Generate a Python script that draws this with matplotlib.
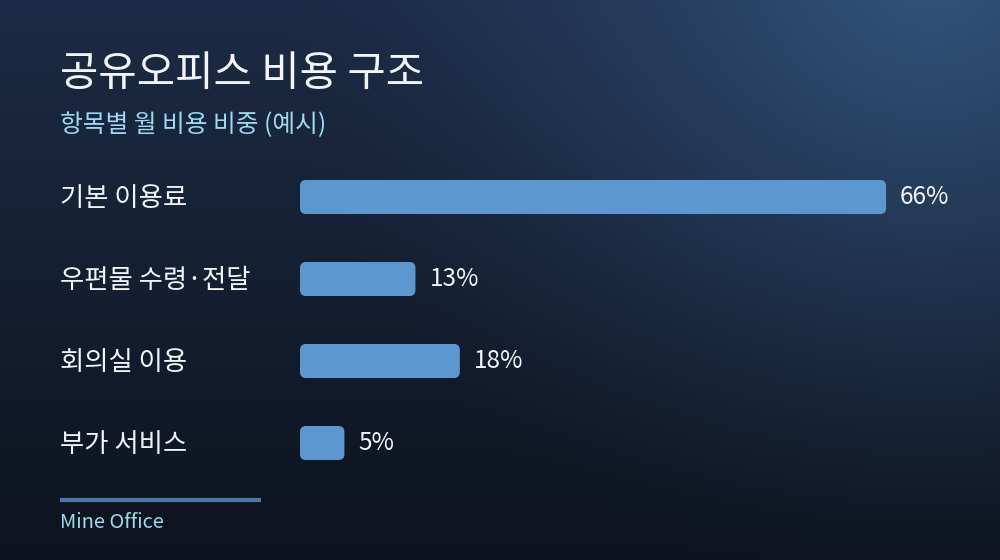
import numpy as np
import matplotlib
matplotlib.use("Agg")
import matplotlib.pyplot as plt
from matplotlib.patches import FancyBboxPatch
from matplotlib.colors import to_rgb

plt.rcParams['font.family'] = ['Noto Sans CJK KR', 'DejaVu Sans']

# ---- data ----
categories = ["기본 이용료", "우편물 수령·전달", "회의실 이용", "부가 서비스"]
shares = [66, 13, 18, 5]
value_labels = ["66%", "13%", "18%", "5%"]

title = "공유오피스 비용 구조"
subtitle = "항목별 월 비용 비중 (예시)"
footer = "Mine Office"

# ---- colours ----
bar_color = "#5c97d0"
text_color = "#f2f5f9"
accent_color = "#9dd9f0"
rule_color = "#4b78a8"

W, H = 1000, 560
fig = plt.figure(figsize=(W / 100, H / 100), dpi=100)

# background: dark vertical gradient with a glow at the top right
bg = fig.add_axes([0, 0, 1, 1])
yy, xx = np.mgrid[0:H, 0:W]
top, bottom = np.array(to_rgb("#1c2b45")), np.array(to_rgb("#0d131e"))
t = (yy / H)[..., None]
img = top * (1 - t) + bottom * t
d = np.sqrt((xx - 930) ** 2 + (yy + 40) ** 2) / 650.0
glow = np.clip(1 - d, 0, 1)[..., None] ** 1.5
img = img * (1 - glow) + np.array(to_rgb("#33557d")) * glow
bg.imshow(img, extent=[0, W, H, 0], aspect="auto", interpolation="bilinear")
bg.set_xlim(0, W)
bg.set_ylim(H, 0)
bg.axis("off")

# title block
bg.text(60, 86, title, color=text_color, fontsize=30, fontweight="medium",
        va="baseline", ha="left")
bg.text(60, 132, subtitle, color=accent_color, fontsize=17.8,
        va="baseline", ha="left")

# footer
bg.plot([60, 261], [500, 500], color=rule_color, lw=3, solid_capstyle="butt")
bg.text(60, 528, footer, color=accent_color, fontsize=14.4,
        va="baseline", ha="left")

# ---- bars ----
px_per_unit = 8.88
ax_left, ax_top, ax_h = 300, 156, 328
ax_w = W - ax_left
ax = fig.add_axes([ax_left / W, 1 - (ax_top + ax_h) / H, ax_w / W, ax_h / H])
ax.set_xlim(0, ax_w / px_per_unit)
ax.set_ylim(3.5, -0.5)
ax.axis("off")

ypos = np.arange(len(categories))
bars = ax.barh(ypos, shares, height=0.415, color=bar_color)

radius_px = 6
aspect = (1 / 82) / (1 / px_per_unit)
for bar in bars:
    x0, y0 = bar.get_x(), bar.get_y()
    w, h = bar.get_width(), bar.get_height()
    bar.remove()
    ax.add_patch(FancyBboxPatch(
        (x0, y0), w, h,
        boxstyle=f"round,pad=0,rounding_size={radius_px / px_per_unit}",
        mutation_aspect=aspect, facecolor=bar_color, edgecolor="none"))

for y, v, lab, cat in zip(ypos, shares, value_labels, categories):
    ax.annotate(lab, (v, y), xytext=(14 * 0.72, 0), textcoords="offset points",
                color=text_color, fontsize=17.5, va="center", ha="left")
    bg.text(60, ax_top + (y + 0.5) * 82 + 1, cat, color=text_color, fontsize=19,
            va="center", ha="left")

fig.savefig("out.png", dpi=100)
